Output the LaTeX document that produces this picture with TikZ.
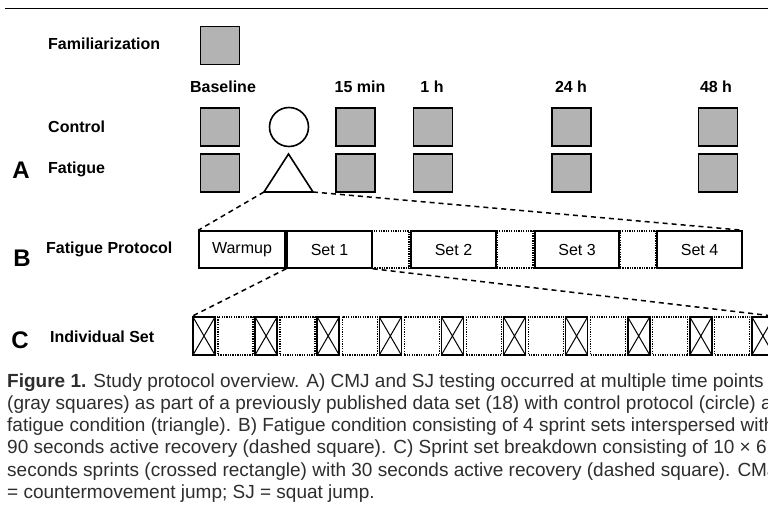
\documentclass[tikz,border=0pt]{standalone}
\usepackage{fontspec}
\setmainfont{Liberation Sans}
\definecolor{sqgray}{HTML}{B3B3B3}
\definecolor{captxt}{HTML}{2E2E2E}
\begin{document}
\begin{tikzpicture}[x=1pt,y=-1pt,
  lbl/.style={font=\fontsize{16}{19}\selectfont\bfseries, anchor=west, inner sep=0},
  tlbl/.style={font=\fontsize{16}{19}\selectfont\bfseries, inner sep=0},
  big/.style={font=\fontsize{24}{28}\selectfont\bfseries, inner sep=0},
  gsq/.style={draw, fill=sqgray, line width=1.6, minimum width=39, minimum height=38, inner sep=0},
  fbox/.style={draw, line width=1.5, minimum height=37, inner sep=0, font=\fontsize{16}{19}\selectfont},
  dbox/.style={draw, line width=1.3, dash pattern=on 1.3 off 1.1, minimum height=37, minimum width=37, inner sep=0},
  xbox/.style={draw, line width=1.6, minimum width=22, minimum height=38, inner sep=0,
    path picture={\draw[line width=1] (path picture bounding box.north west) -- (path picture bounding box.south east)
      (path picture bounding box.north east) -- (path picture bounding box.south west);}},
  cdbox/.style={draw, line width=1.3, dash pattern=on 1.3 off 1.1, minimum width=35, minimum height=38, inner sep=0},
  conn/.style={line width=1.5, dash pattern=on 5 off 4},
  captionline/.style={font=\fontsize{19}{22}\selectfont, text=captxt, anchor=base west, inner sep=0}]
\useasboundingbox (0,0) rectangle (768,518);
\clip (0,0) rectangle (768,518);
\fill[white] (0,0) rectangle (768,518);
% top rule
\coordinate (r1) at (5,8.5);
\coordinate (r2) at (768,8.5);
\draw[line width=1.7] (r1) -- (r2);
% row labels
\node[lbl] (lfam) at (48,44) {Familiarization};
\node[lbl] (lcon) at (48,127) {Control};
\node[lbl] (lfat) at (48,169) {Fatigue};
\node[big] (la) at (21,170) {A};
% time labels
\node[tlbl] (tb) at (223,87) {Baseline};
\node[tlbl] (t15) at (360,87) {15 min};
\node[tlbl] (t1) at (432,87) {1 h};
\node[tlbl] (t24) at (571,87) {24 h};
\node[tlbl] (t48) at (716,87) {48 h};
% squares
\node[gsq] (fam) at (220,45.5) {};
\node[gsq] (cb) at (220,127) {};
\node[gsq] (c15) at (355.5,127) {};
\node[gsq] (c1) at (433,127) {};
\node[gsq] (c24) at (571.5,127) {};
\node[gsq] (c48) at (718,127) {};
\node[gsq] (fb) at (220,173) {};
\node[gsq] (f15) at (355.5,173) {};
\node[gsq] (f1) at (433,173) {};
\node[gsq] (f24) at (571.5,173) {};
\node[gsq] (f48) at (718,173) {};
% circle and triangle
\node[draw, circle, line width=1.6, minimum size=39, inner sep=0] (circ) at (289,127) {};
\coordinate (tria) at (288.5,154);
\coordinate (tril) at (264,192);
\coordinate (trir) at (313,192);
\draw[line width=1.6, line join=miter] (tria) -- (tril) -- (trir) -- cycle;
% B row
\node[big] (lb) at (22,258) {B};
\node[lbl] (lfp) at (46,249) {Fatigue Protocol};
\node[fbox, minimum width=86] (warm) at (242,249.5) {Warmup};
\node[fbox, minimum width=85] (s1) at (329.5,249.5) {Set 1};
\node[dbox] (d1) at (390.5,249.5) {};
\node[fbox, minimum width=85] (s2) at (453.5,249.5) {Set 2};
\node[dbox, minimum width=36] (d2) at (515,249.5) {};
\node[fbox, minimum width=84] (s3) at (577,249.5) {Set 3};
\node[dbox, minimum width=36] (d3) at (638,249.5) {};
\node[fbox, minimum width=85] (s4) at (699.5,249.5) {Set 4};
% C row
\node[big] (lc) at (20,340) {C};
\node[lbl] (lis) at (50,337) {Individual Set};
\foreach \i in {0,...,9} {
  \node[xbox] (x\i) at (204+62.1*\i,336) {};
  \node[cdbox] (y\i) at (235.5+62.1*\i,336) {};
}
% connectors
\draw[conn] (tril) -- (warm.north west);
\draw[conn] (trir) -- (s4.north east);
\draw[conn] (s1.south west) -- (x0.north west);
\draw[conn] (s1.south east) -- (x9.north east);
% caption
\node[captionline] (cap1) at (7,387) {\textbf{Figure 1.} Study protocol overview. A) CMJ and SJ testing occurred at multiple time points};
\node[captionline] (cap2) at (7,409.3) {(gray squares) as part of a previously published data set (18) with control protocol (circle) and};
\node[captionline] (cap3) at (7,431.6) {fatigue condition (triangle). B) Fatigue condition consisting of 4 sprint sets interspersed with};
\node[captionline] (cap4) at (7,453.9) {90 seconds active recovery (dashed square). C) Sprint set breakdown consisting of 10 × 6};
\node[captionline] (cap5) at (7,476.2) {seconds sprints (crossed rectangle) with 30 seconds active recovery (dashed square). CMJ};
\node[captionline] (cap6) at (7,498.5) {= countermovement jump; SJ = squat jump.};
\end{tikzpicture}
\end{document}
